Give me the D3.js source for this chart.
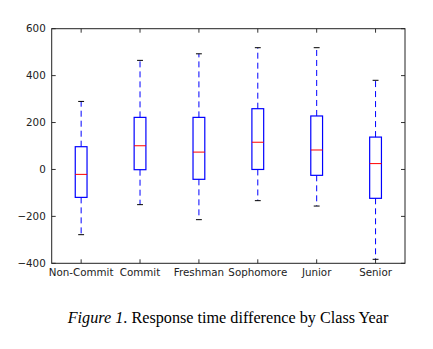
<!DOCTYPE html>
<html>
<head>
<meta charset="utf-8">
<script src="https://cdn.jsdelivr.net/npm/d3@7"></script>
<style>
  body { margin: 0; background: #fff; }
  svg { display: block; }
</style>
</head>
<body>
<svg id="chart" width="433" height="349"></svg>
<script>
// box plot summary per class year: whisker ends, quartiles, median
const categories = ["Non-Commit", "Commit", "Freshman", "Sophomore", "Junior", "Senior"];
const whiskerLow = [-278, -150, -214, -133, -156, -383];
const q1 = [-119, -1, -42, 0, -25, -123];
const median = [-21, 101, 74, 116, 83, 25];
const q3 = [97, 222, 222, 259, 228, 138];
const whiskerHigh = [290, 465, 493, 519, 519, 380];
const yTicks = [-400, -200, 0, 200, 400, 600];

const margin = {left: 51.7, top: 28.7};
const width = 353.3, height = 234.6;
const tickLen = 4;

const svg = d3.select("#chart");
const g = svg.append("g").attr("transform", `translate(${margin.left},${margin.top})`);

// positions 1..n with half a step of padding each side
const x = d3.scaleLinear().domain([0.5, categories.length + 0.5]).range([0, width]);
const y = d3.scaleLinear().domain([-400, 600]).range([height, 0]);
const step = x(2) - x(1);
const boxW = step * 0.2;
const capW = boxW * 0.5;

const rows = categories.map((c, i) => ({
	name: c, pos: i + 1,
	lo: whiskerLow[i], q1: q1[i], med: median[i], q3: q3[i], hi: whiskerHigh[i]
}));

const font = "'DejaVu Sans', sans-serif";

// y tick labels + inward ticks on both sides
const yAxis = g.append("g");
yAxis.selectAll("text")
		 .data(yTicks)
		 .enter()
		 .append("text")
		 .attr("x", -6)
		 .attr("y", d => y(d))
		 .attr("dy", "0.35em")
		 .attr("text-anchor", "end")
		 .style("font-family", font)
		 .style("font-size", "10.3px")
		 .style("fill", "#222")
		 .text(d => d < 0 ? "\u2212" + Math.abs(d) : d);

yAxis.selectAll("line.l")
		 .data(yTicks)
		 .enter()
		 .append("line")
		 .attr("x1", 0).attr("x2", tickLen)
		 .attr("y1", d => y(d)).attr("y2", d => y(d))
		 .attr("stroke", "#333");
yAxis.selectAll("line.r")
		 .data(yTicks)
		 .enter()
		 .append("line")
		 .attr("x1", width - tickLen).attr("x2", width)
		 .attr("y1", d => y(d)).attr("y2", d => y(d))
		 .attr("stroke", "#333");

// x ticks top and bottom, category labels below
const xAxis = g.append("g");
xAxis.selectAll("line.b")
		 .data(rows)
		 .enter()
		 .append("line")
		 .attr("x1", d => x(d.pos)).attr("x2", d => x(d.pos))
		 .attr("y1", height).attr("y2", height - tickLen)
		 .attr("stroke", "#333");
xAxis.selectAll("line.t")
		 .data(rows)
		 .enter()
		 .append("line")
		 .attr("x1", d => x(d.pos)).attr("x2", d => x(d.pos))
		 .attr("y1", 0).attr("y2", tickLen)
		 .attr("stroke", "#333");
xAxis.selectAll("text")
		 .data(rows)
		 .enter()
		 .append("text")
		 .attr("x", d => x(d.pos))
		 .attr("y", height + 13)
		 .attr("text-anchor", "middle")
		 .style("font-family", font)
		 .style("font-size", "10.3px")
		 .style("fill", "#222")
		 .text(d => d.name);

// boxes
const boxes = g.append("g").selectAll("g")
		 .data(rows)
		 .enter()
		 .append("g");

boxes.append("line")
		 .attr("x1", d => x(d.pos)).attr("x2", d => x(d.pos))
		 .attr("y1", d => y(d.q3)).attr("y2", d => y(d.hi))
		 .attr("stroke", "#0000ff")
		 .attr("stroke-dasharray", "6,4");
boxes.append("line")
		 .attr("x1", d => x(d.pos)).attr("x2", d => x(d.pos))
		 .attr("y1", d => y(d.q1)).attr("y2", d => y(d.lo))
		 .attr("stroke", "#0000ff")
		 .attr("stroke-dasharray", "6,4");

["hi", "lo"].forEach(k => {
	boxes.append("line")
			 .attr("x1", d => x(d.pos) - capW / 2).attr("x2", d => x(d.pos) + capW / 2)
			 .attr("y1", d => y(d[k])).attr("y2", d => y(d[k]))
			 .attr("stroke", "#000");
});

boxes.append("rect")
		 .attr("x", d => x(d.pos) - boxW / 2)
		 .attr("y", d => y(d.q3))
		 .attr("width", boxW)
		 .attr("height", d => y(d.q1) - y(d.q3))
		 .attr("fill", "none")
		 .attr("stroke", "#0000ff")
		 .attr("stroke-width", 1.2);

boxes.append("line")
		 .attr("x1", d => x(d.pos) - boxW / 2).attr("x2", d => x(d.pos) + boxW / 2)
		 .attr("y1", d => y(d.med)).attr("y2", d => y(d.med))
		 .attr("stroke", "#ff0000");

// frame
g.append("rect")
		 .attr("width", width)
		 .attr("height", height)
		 .attr("fill", "none")
		 .attr("stroke", "#222");

// caption
const cap = svg.append("text")
		 .attr("x", 228)
		 .attr("y", 322.5)
		 .attr("text-anchor", "middle")
		 .style("font-family", "'Liberation Serif', 'Times New Roman', serif")
		 .style("font-size", "16.2px")
		 .style("fill", "#000");
cap.append("tspan").style("font-style", "italic").text("Figure 1");
cap.append("tspan").text(". Response time difference by Class Year");
</script>
</body>
</html>
